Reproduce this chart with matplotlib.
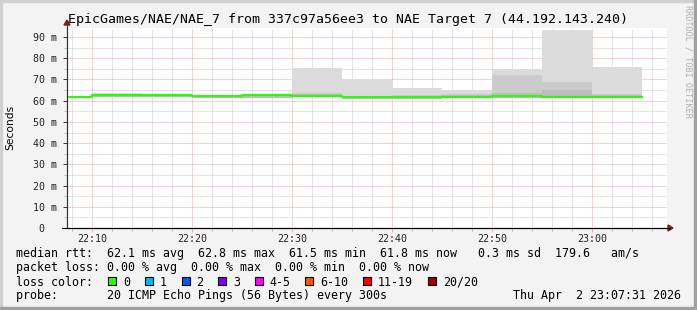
import matplotlib
matplotlib.use("Agg")
import matplotlib.pyplot as plt
from matplotlib.patches import Rectangle, Polygon
import numpy as np

# smokeping style latency graph, 1 hour window ending 23:07:31
title = "EpicGames/NAE/NAE_7 from 337c97a56ee3 to NAE Target 7 (44.192.143.240)"

# 5 minute bins, minutes after 22:00
bin_start = [5, 10, 15, 20, 25, 30, 35, 40, 45, 50, 55, 60]
bin_end = 65
median_ms = [61.8, 62.5, 62.5, 62.4, 62.8, 62.4, 61.5, 61.5, 61.9, 62.0, 61.8, 61.8]
smoke_lo = [61.2, 61.7, 61.7, 61.3, 61.2, 61.5, 60.9, 60.9, 61.2, 61.2, 61.2, 61.2]
smoke_hi = [62.4, 63.8, 63.1, 62.9, 63.2, 75.5, 70.0, 65.9, 64.8, 75.1, 93.1, 75.9]
smoke_mid = [62.2, 63.0, 62.9, 62.7, 63.0, 63.6, 62.4, 62.6, 63.0, 72.2, 69.0, 63.2]
smoke_dark = [62.1, 62.8, 62.8, 62.6, 62.9, 63.0, 62.0, 62.2, 62.6, 63.5, 65.1, 62.8]

x_ticks = [10, 20, 30, 40, 50, 60]
x_labels = ["22:10", "22:20", "22:30", "22:40", "22:50", "23:00"]
y_ticks = [0, 10, 20, 30, 40, 50, 60, 70, 80, 90]
y_labels = ["0  ", "10 m", "20 m", "30 m", "40 m", "50 m", "60 m", "70 m", "80 m", "90 m"]

loss_labels = ["0", "1", "2", "3", "4-5", "6-10", "11-19", "20/20"]
loss_colors = ["#26ff00", "#00b8ff", "#0059ff", "#7e00ff", "#ff00ff", "#ff5500", "#ff0000", "#a10000"]

W, H = 697, 310
fig = plt.figure(figsize=(W / 100, H / 100), dpi=100, facecolor="#f3f3f3")


def fx(px):
    return px / W


def fy(py):
    return 1 - py / H


mono = "DejaVu Sans Mono"

# plot area: x 67..667, y 28..228 (pixels)
ax = fig.add_axes([fx(67), fy(228), 600 / W, 200 / H])
ax.set_facecolor("white")
ax.set_xlim(7.517, 67.517)
ax.set_ylim(0, 200 / 2.122)

xe = bin_start + [bin_end]


def ext(v):
    return list(v) + [v[-1]]


ax.fill_between(xe, ext(smoke_lo), ext(smoke_hi), step="post", color="#dbdbdb", lw=0, zorder=2)
ax.fill_between(xe, ext(smoke_lo), ext(smoke_mid), step="post", color="#cbcbcb", lw=0, zorder=2)
ax.fill_between(xe, ext(smoke_lo), ext(smoke_dark), step="post", color="#bdbdbd", lw=0, zorder=2)
ax.step(xe, ext(median_ms), where="post", color="#26ff00", lw=1.5, zorder=3)

# grid
ax.set_xticks(x_ticks)
ax.set_xticklabels(x_labels)
ax.set_xticks(np.arange(8, 68, 2), minor=True)
ax.set_yticks(y_ticks)
ax.set_yticklabels(y_labels)
ax.set_yticks(np.arange(5, 95, 10), minor=True)
ax.grid(which="minor", color="#c8c8c8", lw=0.72, linestyle=(0, (1, 1)), zorder=1)
ax.grid(which="major", color="#f4a0a0", lw=0.72, linestyle=(0, (1, 1)), zorder=1)
ax.set_axisbelow(True)

for s in ["top", "right"]:
    ax.spines[s].set_visible(False)
ax.spines["left"].set_color("#333333")
ax.spines["bottom"].set_color("#000000")
ax.spines["left"].set_linewidth(0.8)
ax.spines["bottom"].set_linewidth(0.8)
ax.tick_params(which="major", length=3, width=0.7, color="#f4a0a0", pad=4)
ax.tick_params(axis="x", which="major", pad=1.5)
ax.tick_params(which="minor", length=2, width=0.7, color="#bbbbbb")
ax.tick_params(axis="y", which="major", color="#333333")
for lab in ax.get_xticklabels() + ax.get_yticklabels():
    lab.set_family(mono)
    lab.set_fontsize(7.2)
    lab.set_color("#222222")

# axis extensions and arrows
fig.add_artist(plt.Line2D([fx(67), fx(67)], [fy(228), fy(24)], color="#333333", lw=0.8))
fig.add_artist(plt.Line2D([fx(62), fx(670)], [fy(228), fy(228)], color="#000000", lw=0.8))
fig.add_artist(Polygon([[fx(64), fy(25)], [fx(70), fy(25)], [fx(67), fy(20)]],
                       closed=True, color="#8b1a1a", transform=fig.transFigure))
fig.add_artist(Polygon([[fx(668), fy(225)], [fx(668), fy(231)], [fx(673), fy(228)]],
                       closed=True, color="#8b1a1a", transform=fig.transFigure))

fig.text(fx(348), fy(19), title, family=mono, fontsize=9.5, ha="center", va="center")
fig.text(fx(10.5), fy(127), "Seconds", family="DejaVu Sans", fontsize=7.7,
         rotation=90, ha="center", va="center")
fig.text(fx(688), fy(5), "RRDTOOL / TOBI OETIKER", family=mono, fontsize=6.1,
         color="#b0b0b0", rotation=-90, ha="center", va="top")

# legend
lf = 8.4
cw = 7.02
fig.text(fx(16), fy(254), "median rtt:  62.1 ms avg  62.8 ms max  61.5 ms min  61.8 ms now   0.3 ms sd  179.6   am/s",
         family=mono, fontsize=lf, va="center")
fig.text(fx(16), fy(268), "packet loss: 0.00 % avg  0.00 % max  0.00 % min  0.00 % now",
         family=mono, fontsize=lf, va="center")
fig.text(fx(16), fy(282), "loss color:", family=mono, fontsize=lf, va="center")
xp = 108.3
for lab, col in zip(loss_labels, loss_colors):
    fig.add_artist(Rectangle((fx(xp), fy(284.5)), 8 / W, 8 / H, facecolor=col,
                             edgecolor="black", lw=0.8, transform=fig.transFigure))
    fig.text(fx(xp + 15), fy(282), lab, family=mono, fontsize=lf, va="center")
    xp = xp + 15 + len(lab) * cw + 14.6
fig.text(fx(16), fy(296), "probe:       20 ICMP Echo Pings (56 Bytes) every 300s",
         family=mono, fontsize=lf, va="center")
fig.text(fx(681), fy(296), "Thu Apr  2 23:07:31 2026", family=mono, fontsize=lf,
         va="center", ha="right")

# 3d-ish border
fig.add_artist(Rectangle((0, fy(2)), 1, 2 / H, color="#d0d0d0", transform=fig.transFigure))
fig.add_artist(Rectangle((0, 0), 2 / W, 1, color="#d0d0d0", transform=fig.transFigure))
fig.add_artist(Rectangle((fx(694), 0), 3 / W, 1, color="#a0a0a0", transform=fig.transFigure))
fig.add_artist(Rectangle((0, 0), 1, 3 / H, color="#a0a0a0", transform=fig.transFigure))

fig.savefig("out.png", dpi=100, facecolor=fig.get_facecolor())
